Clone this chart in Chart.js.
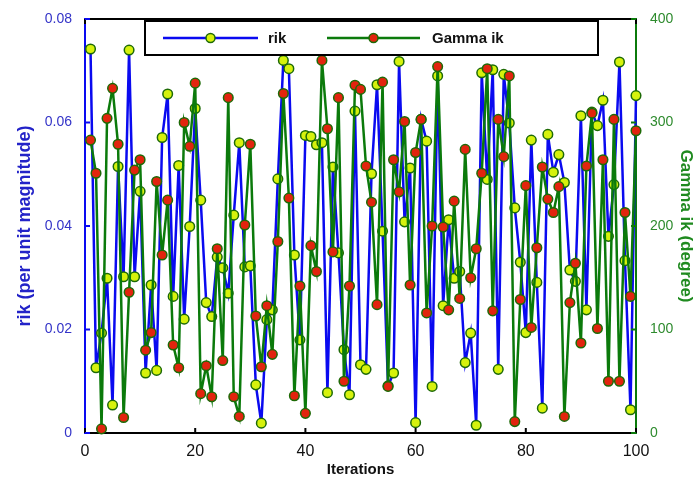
<!DOCTYPE html>
<html>
<head>
<meta charset="utf-8">
<script src="https://cdn.jsdelivr.net/npm/chart.js@4.4.1/dist/chart.umd.min.js"></script>
<style>
  html, body { margin: 0; padding: 0; background: #fff; }
  #wrap { width: 696px; height: 484px; }
</style>
</head>
<body>
<div id="wrap"><canvas id="chart" width="696" height="484"></canvas></div>
<script>
// Iteration numbers (x axis)
const iterations = [
    1, 2, 3, 4, 5, 6, 7, 8, 9, 10, 11, 12, 13, 14, 15, 16, 17, 18, 19, 20,
    21, 22, 23, 24, 25, 26, 27, 28, 29, 30, 31, 32, 33, 34, 35, 36, 37, 38, 39, 40,
    41, 42, 43, 44, 45, 46, 47, 48, 49, 50, 51, 52, 53, 54, 55, 56, 57, 58, 59, 60,
    61, 62, 63, 64, 65, 66, 67, 68, 69, 70, 71, 72, 73, 74, 75, 76, 77, 78, 79, 80,
    81, 82, 83, 84, 85, 86, 87, 88, 89, 90, 91, 92, 93, 94, 95, 96, 97, 98, 99, 100
];

// rik (per unit magnitude), left axis
const rikValues = [
    0.0742, 0.0126, 0.0193, 0.0299, 0.0054, 0.0515, 0.0302, 0.0740, 0.0302, 0.0467,
    0.0116, 0.0286, 0.0121, 0.0571, 0.0655, 0.0264, 0.0517, 0.0220, 0.0399, 0.0627,
    0.0450, 0.0252, 0.0225, 0.0340, 0.0319, 0.0270, 0.0421, 0.0561, 0.0321, 0.0323,
    0.0093, 0.0019, 0.0219, 0.0238, 0.0491, 0.0720, 0.0704, 0.0344, 0.0180, 0.0575,
    0.0573, 0.0557, 0.0561, 0.0078, 0.0514, 0.0348, 0.0161, 0.0074, 0.0622, 0.0132,
    0.0123, 0.0501, 0.0673, 0.0390, 0.0091, 0.0116, 0.0718, 0.0408, 0.0512, 0.0020,
    0.0606, 0.0564, 0.0090, 0.0690, 0.0246, 0.0412, 0.0299, 0.0312, 0.0136, 0.0193,
    0.0015, 0.0696, 0.0490, 0.0702, 0.0123, 0.0693, 0.0599, 0.0435, 0.0330, 0.0194,
    0.0566, 0.0291, 0.0048, 0.0577, 0.0504, 0.0538, 0.0484, 0.0315, 0.0293, 0.0613,
    0.0238, 0.0620, 0.0594, 0.0643, 0.0380, 0.0480, 0.0717, 0.0333, 0.0045, 0.0652
];

// Gamma ik (degree), right axis
const gammaValues = [
    283, 251, 4, 304, 333, 279, 15, 136, 254, 264,
    80, 97, 243, 172, 225, 85, 63, 300, 277, 338,
    38, 65, 35, 178, 70, 324, 35, 16, 201, 279,
    113, 64, 123, 76, 185, 328, 227, 36, 142, 19,
    181, 156, 360, 294, 175, 324, 50, 142, 336, 332,
    258, 223, 124, 339, 45, 264, 233, 301, 143, 271,
    303, 116, 200, 354, 199, 119, 224, 130, 274, 150,
    178, 251, 352, 118, 303, 267, 345, 11, 129, 239,
    102, 179, 257, 226, 213, 238, 16, 126, 164, 87,
    258, 309, 101, 264, 50, 303, 50, 213, 132, 292
];

// Tick values and labels
const xTickValues = [0, 20, 40, 60, 80, 100];
const xTickLabels = ['0', '20', '40', '60', '80', '100'];
const rikTickValues = [0, 0.02, 0.04, 0.06, 0.08];
const rikTickLabels = ['0', '0.02', '0.04', '0.06', '0.08'];
const gammaTickValues = [0, 100, 200, 300, 400];
const gammaTickLabels = ['0', '100', '200', '300', '400'];

const BLUE = '#0a0af0';
const GREEN = '#0b7a0b';
const MARK_EDGE = '#1d6a06';
const YELLOW = '#d6f20c';
const RED = '#e2240e';
const FONT = "'Liberation Sans', Arial, sans-serif";

function setTicks(values) {
    return function(scale) {
        scale.ticks = values.map(v => ({ value: v }));
    };
}

// Frame, inward tick marks and the boxed legend
const framePlugin = {
    id: 'frame',
    afterDatasetsDraw(chart) {
        const ctx = chart.ctx;
        const a = chart.chartArea;
        const x = chart.scales.x, yl = chart.scales.y, yr = chart.scales.y1;
        ctx.save();
        ctx.lineWidth = 2;

        // top edge
        ctx.strokeStyle = '#000';
        ctx.beginPath();
        ctx.moveTo(a.left, a.top);
        ctx.lineTo(a.right, a.top);
        ctx.stroke();

        // x ticks (bottom and top, inward)
        xTickValues.forEach(v => {
            const px = x.getPixelForValue(v);
            ctx.beginPath();
            ctx.moveTo(px, a.bottom);
            ctx.lineTo(px, a.bottom - 5);
            ctx.moveTo(px, a.top);
            ctx.lineTo(px, a.top + 5);
            ctx.stroke();
        });
        // left ticks
        ctx.strokeStyle = BLUE;
        rikTickValues.forEach(v => {
            const py = yl.getPixelForValue(v);
            ctx.beginPath();
            ctx.moveTo(a.left, py);
            ctx.lineTo(a.left + 5, py);
            ctx.stroke();
        });
        // right ticks
        ctx.strokeStyle = GREEN;
        gammaTickValues.forEach(v => {
            const py = yr.getPixelForValue(v);
            ctx.beginPath();
            ctx.moveTo(a.right, py);
            ctx.lineTo(a.right - 5, py);
            ctx.stroke();
        });

        // legend box
        const lx = a.left + 60, ly = a.top + 2, lw = 453, lh = 34;
        ctx.fillStyle = '#fff';
        ctx.fillRect(lx, ly, lw, lh);
        ctx.strokeStyle = '#000';
        ctx.lineWidth = 2;
        ctx.strokeRect(lx, ly, lw, lh);

        const cy = ly + lh / 2;
        const items = [
            { line: BLUE, fill: YELLOW, text: 'rik', x0: lx + 18, x1: lx + 113, tx: lx + 123 },
            { line: GREEN, fill: RED, text: 'Gamma ik', x0: lx + 182, x1: lx + 275, tx: lx + 287 }
        ];
        items.forEach(it => {
            ctx.strokeStyle = it.line;
            ctx.lineWidth = 2.5;
            ctx.beginPath();
            ctx.moveTo(it.x0, cy);
            ctx.lineTo(it.x1, cy);
            ctx.stroke();
            ctx.beginPath();
            ctx.arc((it.x0 + it.x1) / 2, cy, 4.5, 0, Math.PI * 2);
            ctx.fillStyle = it.fill;
            ctx.fill();
            ctx.lineWidth = 1.5;
            ctx.strokeStyle = MARK_EDGE;
            ctx.stroke();
            ctx.fillStyle = '#111';
            ctx.font = 'bold 15px ' + FONT;
            ctx.textBaseline = 'middle';
            ctx.textAlign = 'left';
            ctx.fillText(it.text, it.tx, cy + 1);
        });
        ctx.restore();
    }
};

new Chart(document.getElementById('chart'), {
    type: 'line',
    data: {
        datasets: [
            {
                label: 'Gamma ik',
                data: iterations.map((it, k) => ({ x: it, y: gammaValues[k] })),
                yAxisID: 'y1',
                borderColor: GREEN,
                borderWidth: 2.5,
                pointRadius: 4.8,
                pointBorderWidth: 1.5,
                pointBackgroundColor: RED,
                pointBorderColor: MARK_EDGE,
                tension: 0,
                clip: false,
                order: 0
            },
            {
                label: 'rik',
                data: iterations.map((it, k) => ({ x: it, y: rikValues[k] })),
                yAxisID: 'y',
                borderColor: BLUE,
                borderWidth: 2.5,
                pointRadius: 4.8,
                pointBorderWidth: 1.5,
                pointBackgroundColor: YELLOW,
                pointBorderColor: MARK_EDGE,
                tension: 0,
                clip: false,
                order: 1
            }
        ]
    },
    options: {
        responsive: false,
        animation: false,
        layout: { padding: { top: 19, left: 0, right: 0, bottom: 0 } },
        plugins: {
            legend: { display: false },
            tooltip: { enabled: false }
        },
        scales: {
            x: {
                type: 'linear',
                min: 0,
                max: 100,
                afterBuildTicks: setTicks(xTickValues),
                afterFit: s => { s.height = 51; },
                grid: { display: false },
                border: { color: '#000', width: 2 },
                ticks: {
                    color: '#111',
                    font: { family: FONT, size: 16 },
                    padding: 1,
                    maxRotation: 0,
                    callback: (v, i) => xTickLabels[i]
                },
                title: {
                    display: true,
                    text: 'Iterations',
                    color: '#111',
                    font: { family: FONT, size: 15, weight: 'bold' },
                    padding: { top: 0, bottom: 5 }
                }
            },
            y: {
                position: 'left',
                min: 0,
                max: 0.08,
                afterBuildTicks: setTicks(rikTickValues),
                afterFit: s => { s.width = 85; },
                grid: { display: false },
                border: { color: BLUE, width: 2 },
                ticks: {
                    color: '#3434c8',
                    font: { family: FONT, size: 14 },
                    padding: 5,
                    callback: (v, i) => rikTickLabels[i]
                },
                title: {
                    display: true,
                    text: 'rik (per unit magnitude)',
                    color: '#2323c8',
                    font: { family: FONT, size: 18, weight: 'bold' },
                    padding: { top: 14, bottom: 0 }
                }
            },
            y1: {
                position: 'right',
                min: 0,
                max: 400,
                afterBuildTicks: setTicks(gammaTickValues),
                afterFit: s => { s.width = 60; },
                grid: { display: false },
                border: { color: GREEN, width: 2 },
                ticks: {
                    color: '#2e8b2e',
                    font: { family: FONT, size: 14 },
                    padding: 6,
                    callback: (v, i) => gammaTickLabels[i]
                },
                title: {
                    display: true,
                    text: 'Gamma ik (degree)',
                    color: '#1f8a1f',
                    font: { family: FONT, size: 17, weight: 'bold' },
                    padding: { top: 0, bottom: 0 }
                }
            }
        }
    },
    plugins: [framePlugin]
});
</script>
</body>
</html>
